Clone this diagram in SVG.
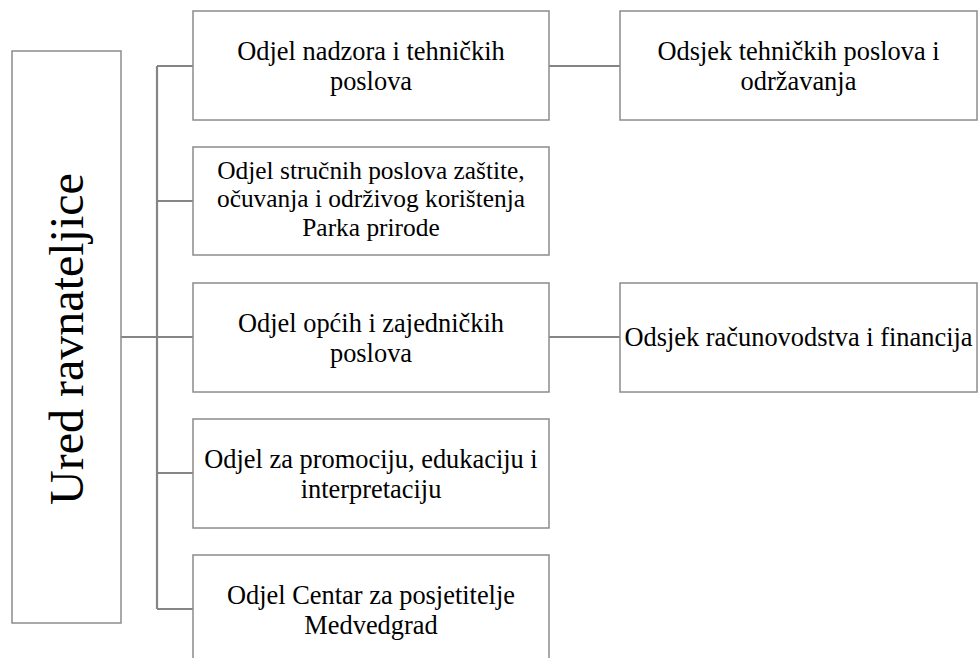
<svg xmlns="http://www.w3.org/2000/svg" width="978" height="658" viewBox="0 0 978 658">
<style>
.box{fill:#fff;stroke:#8c8c8c;stroke-width:1.5}
.con{fill:none;stroke:#858585;stroke-width:2.2}
.t{font-family:"Liberation Serif","Times New Roman",serif;font-size:26.4px;fill:#000;text-anchor:middle}
.t3{font-size:25.4px}
.big{font-family:"Liberation Serif","Times New Roman",serif;font-size:48px;fill:#000;text-anchor:middle}
</style>
<rect width="978" height="658" fill="#fff"/>
<g id="connectors">
<path class="con" d="M121 337H157M157 66V609M157 66H193M157 201H193M157 337H193M157 473H193M157 609H193M549 66H620M549 337H620"/>
</g>
<g id="ured">
<rect class="box" x="12" y="51" width="109" height="572"/>
<text class="big" transform="translate(83 339) rotate(-90)">Ured ravnateljice</text>
</g>
<g id="odjel-nadzora">
<rect class="box" x="193" y="11" width="356" height="109"/>
<text class="t" x="371" y="60">Odjel nadzora i tehničkih</text>
<text class="t" x="371" y="90">poslova</text>
</g>
<g id="odjel-strucnih">
<rect class="box" x="193" y="147" width="356" height="108"/>
<text class="t t3" x="371" y="179">Odjel stručnih poslova zaštite,</text>
<text class="t t3" x="371" y="207.3">očuvanja i održivog korištenja</text>
<text class="t t3" x="371" y="235.6">Parka prirode</text>
</g>
<g id="odjel-opcih">
<rect class="box" x="193" y="283" width="356" height="109"/>
<text class="t" x="371" y="331.5">Odjel općih i zajedničkih</text>
<text class="t" x="371" y="361.5">poslova</text>
</g>
<g id="odjel-promocija">
<rect class="box" x="193" y="419" width="356" height="109"/>
<text class="t" x="371" y="467.5">Odjel za promociju, edukaciju i</text>
<text class="t" x="371" y="497.5">interpretaciju</text>
</g>
<g id="odjel-centar">
<rect class="box" x="193" y="555" width="356" height="109"/>
<text class="t" x="371" y="604">Odjel Centar za posjetitelje</text>
<text class="t" x="371" y="634">Medvedgrad</text>
</g>
<g id="odsjek-tehnickih">
<rect class="box" x="620" y="11" width="357" height="109"/>
<text class="t" x="798.5" y="60">Odsjek tehničkih poslova i</text>
<text class="t" x="798.5" y="90">održavanja</text>
</g>
<g id="odsjek-racunovodstva">
<rect class="box" x="620" y="283" width="357" height="109"/>
<text class="t" x="798.5" y="346">Odsjek računovodstva i financija</text>
</g>
</svg>
